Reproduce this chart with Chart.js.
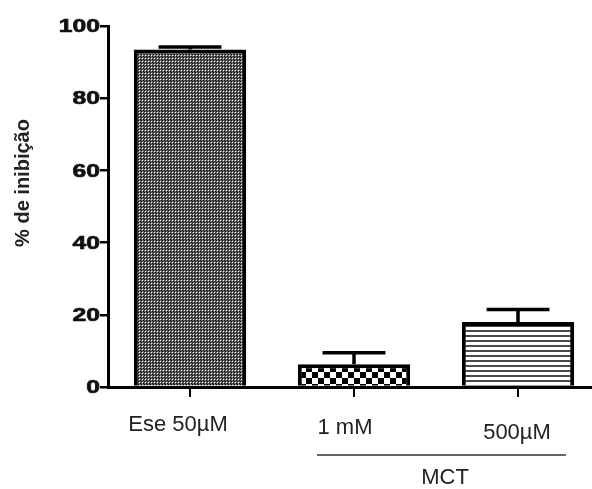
<!DOCTYPE html>
<html>
<head>
<meta charset="utf-8">
<script src="https://cdn.jsdelivr.net/npm/chart.js@4/dist/chart.umd.min.js"></script>
<style>
html,body{margin:0;padding:0;overflow:hidden;background:#fff;}
canvas{display:block;}
</style>
</head>
<body>
<canvas id="c" width="600" height="489"></canvas>
<script>
// ---- data ----
const categories = ["Ese 50µM", "1 mM", "500µM"];
const values = [93.5, 6.3, 18.0];
const errors = [0.7, 3.2, 3.5];
const yTicks = [0, 20, 40, 60, 80, 100];
const yTitle = "% de inibição";
const groupLabel = "MCT";

// ---- patterns ----
function makePattern(w, h, draw) {
  const c = document.createElement('canvas');
  c.width = w; c.height = h;
  const g = c.getContext('2d');
  draw(g);
  return g.createPattern(c, 'repeat');
}
const patDots = makePattern(3, 3, g => {
  g.fillStyle = '#666'; g.fillRect(0, 0, 3, 3);
  g.fillStyle = '#000'; g.fillRect(0, 0, 1, 1); g.fillRect(2, 2, 1, 1);
  g.fillStyle = '#fff'; g.fillRect(1, 1, 1, 1);
});
const patChecker = makePattern(12, 12, g => {
  g.fillStyle = '#fff'; g.fillRect(0, 0, 12, 12);
  g.fillStyle = '#000'; g.fillRect(0, 0, 6, 6); g.fillRect(6, 6, 6, 6);
});
const patLines = makePattern(5, 5, g => {
  g.fillStyle = '#fff'; g.fillRect(0, 0, 5, 5);
  g.fillStyle = '#4a4a4a'; g.fillRect(0, 0, 5, 2);
});

const errorBars = {
  id: 'errorBars',
  afterDatasetsDraw(chart) {
    const ctx = chart.ctx;
    const meta = chart.getDatasetMeta(0);
    const ys = chart.scales.y;
    ctx.save();
    ctx.strokeStyle = '#000';
    ctx.lineWidth = 3.5;
    meta.data.forEach((bar, i) => {
      const x = bar.x;
      const y0 = ys.getPixelForValue(values[i]);
      const y1 = ys.getPixelForValue(values[i] + errors[i]);
      const half = bar.width * 0.28;
      ctx.beginPath();
      ctx.moveTo(x, y0); ctx.lineTo(x, y1);
      ctx.moveTo(x - half, y1); ctx.lineTo(x + half, y1);
      ctx.stroke();
    });
    ctx.restore();
  }
};

const textPlugin = {
  id: 'texts',
  afterDraw(chart) {
    const ctx = chart.ctx;
    const ys = chart.scales.y, xs = chart.scales.x;
    ctx.save();
    // y tick labels
    ctx.fillStyle = '#111';
    ctx.strokeStyle = '#111';
    ctx.lineWidth = 0.7;
    ctx.font = 'bold 19px "Liberation Sans", Arial, sans-serif';
    ctx.textAlign = 'right';
    ctx.textBaseline = 'middle';
    yTicks.forEach(v => {
      const y = ys.getPixelForValue(v);
      ctx.save();
      ctx.translate(100, y + 1);
      ctx.scale(1.3, 1);
      ctx.fillText(String(v), 0, 0);
      ctx.strokeText(String(v), 0, 0);
      ctx.restore();
    });
    // y title
    ctx.save();
    ctx.translate(23, 183);
    ctx.rotate(-Math.PI / 2);
    ctx.textAlign = 'center';
    ctx.font = 'bold 20px "Liberation Sans", Arial, sans-serif';
    ctx.fillStyle = '#222';
    ctx.fillText(yTitle, 0, 0);
    ctx.restore();
    // x labels
    ctx.font = '22px "Liberation Sans", Arial, sans-serif';
    ctx.fillStyle = '#222';
    ctx.textAlign = 'center';
    const offs = [[-12, 425], [-9, 428], [-1, 433]];
    categories.forEach((c, i) => {
      const x = xs.getPixelForValue(i);
      ctx.fillText(c, x + offs[i][0], offs[i][1]);
    });
    // group line + label
    ctx.strokeStyle = '#333';
    ctx.lineWidth = 1.5;
    ctx.beginPath();
    ctx.moveTo(317, 455); ctx.lineTo(566, 455);
    ctx.stroke();
    ctx.fillText(groupLabel, 445, 478);
    ctx.restore();
  }
};

new Chart(document.getElementById('c'), {
  type: 'bar',
  data: {
    labels: categories,
    datasets: [{
      data: values,
      backgroundColor: [patDots, patChecker, patLines],
      borderColor: '#000',
      borderWidth: 4,
      borderSkipped: 'bottom',
      barPercentage: 0.685,
      categoryPercentage: 1.0
    }]
  },
  options: {
    responsive: false,
    animation: false,
    devicePixelRatio: 1,
    layout: { padding: { top: 26, left: 0, right: 0, bottom: 0 } },
    plugins: { legend: { display: false }, tooltip: { enabled: false } },
    scales: {
      x: {
        grid: { drawOnChartArea: false, offset: false, color: '#000', lineWidth: 2, tickLength: 10 },
        border: { display: true, color: '#000', width: 3 },
        ticks: { display: false },
        afterFit(s) { s.height = 102; }
      },
      y: {
        min: 0, max: 100,
        afterBuildTicks(s) { s.ticks = yTicks.map(v => ({ value: v })); },
        grid: { drawOnChartArea: false, color: '#000', lineWidth: 2.5, tickLength: 8 },
        border: { display: true, color: '#000', width: 3 },
        ticks: { display: false },
        afterFit(s) { s.width = 108; }
      }
    }
  },
  plugins: [errorBars, textPlugin]
});
</script>
</body>
</html>
